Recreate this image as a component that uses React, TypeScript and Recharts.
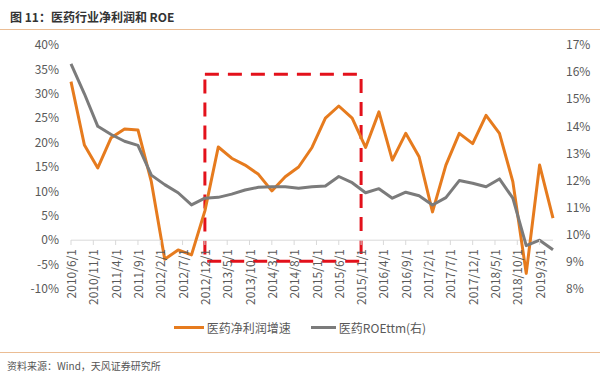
import React from "react";
import {
  LineChart,
  Line,
  XAxis,
  YAxis,
  ReferenceArea,
  ReferenceLine,
} from "recharts";

// quarterly observations
const quarters = [
  "2010/6", "2010/9", "2010/12", "2011/3", "2011/6", "2011/9", "2011/12",
  "2012/3", "2012/6", "2012/9", "2012/12", "2013/3", "2013/6", "2013/9",
  "2013/12", "2014/3", "2014/6", "2014/9", "2014/12", "2015/3", "2015/6",
  "2015/9", "2015/12", "2016/3", "2016/6", "2016/9", "2016/12", "2017/3",
  "2017/6", "2017/9", "2017/12", "2018/3", "2018/6", "2018/9", "2018/12",
  "2019/3", "2019/6",
];

// 医药净利润增速 (%)
const profitGrowth = [
  32.5, 19.5, 14.8, 21, 22.8, 22.6, 12, -3.9, -2, -3, 6, 19.1, 16.8, 15.4,
  13.5, 10.1, 13, 15, 19, 25, 27.5, 25, 19, 26.3, 16.4, 21.9, 17.1, 5.8,
  15.4, 21.9, 19.8, 25.6, 21.9, 12, -6.8, 15.4, 4.5,
];

// 医药ROEttm (%, right axis)
const roeTtm = [
  16.3, 15.2, 14.0, 13.7, 13.45, 13.3, 12.2, 11.85, 11.55, 11.1, 11.35,
  11.38, 11.5, 11.65, 11.75, 11.77, 11.77, 11.72, 11.77, 11.8, 12.15, 11.92,
  11.55, 11.7, 11.35, 11.57, 11.44, 11.1, 11.37, 12.0, 11.9, 11.77, 12.06,
  11.35, 9.6, 9.8, 9.45,
];

const xTickLabels = [
  "2010/6/1", "2010/11/1", "2011/4/1", "2011/9/1", "2012/2/1", "2012/7/1",
  "2012/12/1", "2013/5/1", "2013/10/1", "2014/3/1", "2014/8/1", "2015/1/1",
  "2015/6/1", "2015/11/1", "2016/4/1", "2016/9/1", "2017/2/1", "2017/7/1",
  "2017/12/1", "2018/5/1", "2018/10/1", "2019/3/1",
];

const leftTicks = [-10, -5, 0, 5, 10, 15, 20, 25, 30, 35, 40];
const rightTicks = [8, 9, 10, 11, 12, 13, 14, 15, 16, 17];

// highlighted period (red dashed box)
const boxStart = "2012/12/1";
const boxEnd = "2015/11/1";
const boxTop = 34;
const boxBottom = -4.3;

// months since 2010/6
const monthIdx = (s: string) => {
  const [y, m] = s.split("/").map(Number);
  return (y - 2010) * 12 + (m - 6);
};

const data = quarters.map((q, i) => ({
  m: monthIdx(q),
  growth: profitGrowth[i],
  roe: roeTtm[i],
}));

const tickPos = xTickLabels.map(monthIdx);
const labelAt: Record<number, string> = {};
xTickLabels.forEach((l) => (labelAt[monthIdx(l)] = l));

const ORANGE = "#E67B1E";
const GRAY = "#7B7B7B";
const TEXT = "#595959";
const FONT = '"Noto Sans CJK SC", "Noto Sans", sans-serif';

// x axis sits at y=0, so labels are drawn up from the plot bottom
const AXIS_SHIFT = 49;

const XTick = (props: any) => {
  const { x, y, payload } = props;
  const y0 = y - AXIS_SHIFT;
  return (
    <g>
      <line x1={x} y1={y0} x2={x} y2={y0 + 5} stroke="#d9d9d9" />
      <text
        transform={`translate(${x},${y0 + 9}) rotate(-90)`}
        textAnchor="end"
        dy="0.42em"
        fill={TEXT}
        fontSize={12}
        fontFamily={FONT}
      >
        {labelAt[payload.value]}
      </text>
    </g>
  );
};

export default function App() {
  return (
    <div
      style={{
        position: "absolute",
        left: 0,
        top: 0,
        width: 600,
        height: 378,
        background: "#fff",
        fontFamily: FONT,
        color: TEXT,
      }}
    >
      <div
        style={{
          position: "absolute",
          left: 10,
          top: 8,
          fontSize: 12,
          fontWeight: "bold",
          color: "#333",
        }}
      >
        图 11：医药行业净利润和 ROE
      </div>
      <div style={{ position: "absolute", left: 0, top: 29, width: 600, height: 1, background: "#ebbd94" }} />

      <div style={{ position: "absolute", left: 0, top: 0 }}>
        <LineChart
          width={600}
          height={310}
          data={data}
          margin={{ top: 45, right: 2, bottom: 1, left: 21 }}
        >
          <XAxis
            dataKey="m"
            type="number"
            domain={[0, 108]}
            ticks={tickPos}
            interval={0}
            height={20}
            axisLine={false}
            tickLine={false}
            tickSize={0}
            tickMargin={0}
            tick={<XTick />}
          />
          <YAxis
            yAxisId="left"
            domain={[-10, 40]}
            ticks={leftTicks}
            interval={0}
            width={50}
            axisLine={false}
            tickLine={false}
            tickSize={0}
            tickMargin={12}
            tickFormatter={(v) => `${v}%`}
            tick={{ fill: TEXT, fontSize: 12, fontFamily: FONT }}
          />
          <YAxis
            yAxisId="right"
            orientation="right"
            domain={[8, 17]}
            ticks={rightTicks}
            interval={0}
            width={45}
            axisLine={false}
            tickLine={false}
            tickSize={0}
            tickMargin={13}
            tickFormatter={(v) => `${v}%`}
            tick={{ fill: TEXT, fontSize: 12, fontFamily: FONT }}
          />
          <ReferenceLine yAxisId="left" y={0} stroke="#d9d9d9" />
          <ReferenceArea
            yAxisId="left"
            x1={monthIdx(boxStart)}
            x2={monthIdx(boxEnd)}
            y1={boxBottom}
            y2={boxTop}
            fill="none"
            fillOpacity={0}
            stroke="#E3111B"
            strokeWidth={3}
            strokeDasharray="14 9"
          />
          <Line
            yAxisId="left"
            dataKey="growth"
            stroke={ORANGE}
            strokeWidth={3}
            dot={false}
            strokeLinejoin="round"
            isAnimationActive={false}
          />
          <Line
            yAxisId="right"
            dataKey="roe"
            stroke={GRAY}
            strokeWidth={3}
            dot={false}
            strokeLinejoin="round"
            isAnimationActive={false}
          />
        </LineChart>
      </div>

      <div
        style={{
          position: "absolute",
          top: 319,
          left: 0,
          width: 600,
          display: "flex",
          justifyContent: "center",
          alignItems: "center",
          fontSize: 12,
          color: TEXT,
        }}
      >
        <span style={{ display: "inline-block", width: 30, height: 3, background: ORANGE, marginRight: 3 }} />
        <span>医药净利润增速</span>
        <span style={{ display: "inline-block", width: 25, height: 3, background: GRAY, marginLeft: 20, marginRight: 3 }} />
        <span>医药ROEttm(右)</span>
      </div>

      <div style={{ position: "absolute", left: 0, top: 352, width: 600, height: 1, background: "#ebbd94" }} />
      <div style={{ position: "absolute", left: 7, top: 358, fontSize: 10, color: "#555" }}>
        资料来源：Wind，天风证券研究所
      </div>
    </div>
  );
}
